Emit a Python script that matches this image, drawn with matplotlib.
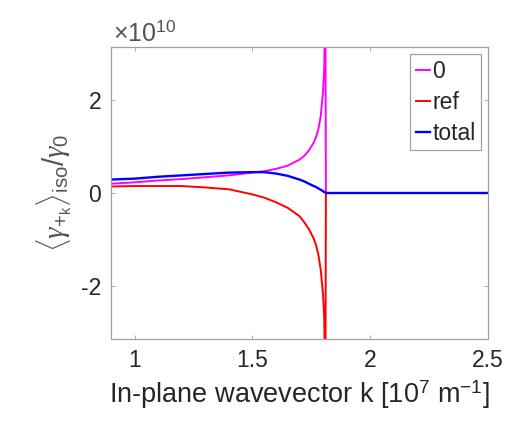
import matplotlib
matplotlib.use("Agg")
import numpy as np
import matplotlib.pyplot as plt

# values, y in units of 1e10
k = [0.9, 1.0, 1.1, 1.2, 1.3, 1.4, 1.5, 1.55, 1.6, 1.65, 1.7, 1.72, 1.74, 1.76,
     1.77, 1.78, 1.79, 1.80, 1.805, 1.81, 1.812, 1.82, 1.9, 2.0, 2.2, 2.5]
g_zero = [0.20, 0.23, 0.27, 0.30, 0.34, 0.38, 0.44, 0.47, 0.52, 0.59, 0.72, 0.80, 0.92, 1.08,
          1.20, 1.38, 1.65, 2.20, 2.70, 4.50, 0.0, 0.0, 0.0, 0.0, 0.0, 0.0]
g_ref = [0.14, 0.15, 0.15, 0.15, 0.12, 0.08, -0.03, -0.10, -0.20, -0.32, -0.50, -0.63, -0.78, -0.98,
         -1.12, -1.33, -1.65, -2.20, -2.70, -4.50, 0.0, 0.0, 0.0, 0.0, 0.0, 0.0]
g_total = [0.29, 0.31, 0.35, 0.38, 0.41, 0.44, 0.45, 0.45, 0.42, 0.37, 0.29, 0.25, 0.20, 0.15,
           0.13, 0.10, 0.07, 0.04, 0.02, 0.01, 0.0, 0.0, 0.0, 0.0, 0.0, 0.0]
labels = ["0", "ref", "total"]
colors = ["#ff00ff", "#ff0000", "#0000ff"]

plt.rcParams['font.family'] = ['Liberation Sans', 'DejaVu Sans']
plt.rcParams['mathtext.fontset'] = 'custom'
plt.rcParams['mathtext.rm'] = 'Liberation Sans'
plt.rcParams['mathtext.it'] = 'Liberation Serif:italic'
plt.rcParams['mathtext.bf'] = 'Liberation Sans:bold'
txt = '#262626'
grey = '#a0a0a0'

fig = plt.figure(figsize=(5.08, 4.23), dpi=100)
ax = fig.add_axes([0.2185, 0.1986, 0.7421, 0.6903])

series = [g_zero, g_ref, g_total]
widths = [1.4, 1.4, 1.7]
for ys, c, lab, lw in zip(series, colors, labels, widths):
    ax.plot(k, np.array(ys) * 1e10, color=c, lw=lw, label=lab)

ax.set_xlim(0.9, 2.5)
ax.set_ylim(-3.15e10, 3.15e10)
ax.set_xticks([1, 1.5, 2, 2.5])
ax.set_xticklabels(['1', '1.5', '2', '2.5'])
ax.set_yticks([-2e10, 0, 2e10])
ax.set_yticklabels(['-2', '0', '2'])
ax.tick_params(direction='in', length=3, width=0.6, colors=grey, labelcolor=txt,
               labelsize=16.5, top=True, right=True, pad=7)
for s in ax.spines.values():
    s.set_color(grey)
    s.set_linewidth(0.9)

ax.text(0.005, 1.005, r'$\times10^{10}$', transform=ax.transAxes, fontsize=18,
        color='#555555', ha='left', va='bottom')

ax.set_xlabel('In-plane wavevector k [10$^7$ m$^{-1}$]', fontsize=19.5, color=txt, labelpad=5)
ax.set_ylabel(r'$\langle\gamma_{+_{\mathrm{k}}}\rangle_{\mathrm{iso}}/\gamma_{\mathrm{0}}$',
              fontsize=21, color='#555555', labelpad=5)

leg = ax.legend(loc='upper right', fontsize=16.5, handlelength=0.6, handletextpad=0.1,
                borderaxespad=0.3, borderpad=0.25, labelspacing=0.35, fancybox=False,
                framealpha=1)
leg.get_frame().set_edgecolor(grey)
leg.get_frame().set_linewidth(0.9)
for t in leg.get_texts():
    t.set_color(txt)

fig.savefig('out.png', dpi=100)
